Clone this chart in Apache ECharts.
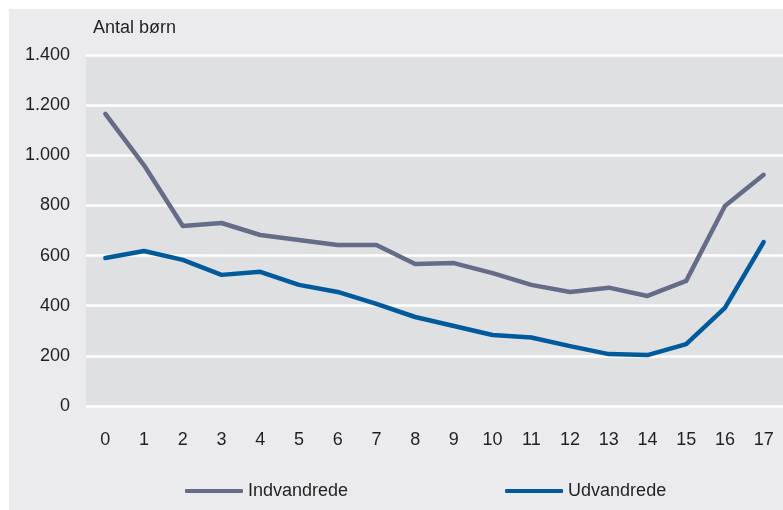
<!DOCTYPE html>
<html>
<head>
<meta charset="utf-8">
<script src="https://cdn.jsdelivr.net/npm/echarts@6/dist/echarts.min.js"></script>
<style>
  html, body { margin: 0; padding: 0; background: #ffffff; }
  #chart { width: 783px; height: 510px; }
</style>
</head>
<body>
<div id="chart"></div>
<script>
const ages = ["0", "1", "2", "3", "4", "5", "6", "7", "8", "9", "10", "11", "12", "13", "14", "15", "16", "17"];
const indvandrede = [1165, 960, 718, 730, 682, 662, 642, 642, 566, 570, 530, 483, 455, 472, 439, 499, 798, 922];
const udvandrede = [590, 618, 583, 523, 535, 483, 455, 407, 355, 319, 283, 273, 239, 207, 203, 247, 391, 654];
const yTicks = [0, 200, 400, 600, 800, 1000, 1200, 1400];

const FONT = "Liberation Sans";
const TEXT = "#231f20";

const chart = echarts.init(document.getElementById("chart"), null, { renderer: "canvas" });

const option = {
  backgroundColor: "#ffffff",
  animation: false,
  graphic: [
    {
      type: "rect",
      z: -10,
      silent: true,
      shape: { x: 9, y: 9, width: 780, height: 510 },
      style: { fill: "#ebebed" },
    },
  ],
  title: {
    text: "Antal børn",
    left: 88,
    top: 14,
    textStyle: { fontFamily: FONT, fontSize: 18, fontWeight: "normal", color: TEXT },
  },
  legend: {
    data: ["Indvandrede", "Udvandrede"],
    left: 185,
    top: 482,
    padding: 0,
    itemWidth: 58,
    itemHeight: 4,
    itemGap: 157,
    icon: "roundRect",
    textStyle: { fontFamily: FONT, fontSize: 18, color: TEXT },
  },
  grid: {
    left: 86,
    right: 0,
    top: 55,
    bottom: 104,
    show: true,
    backgroundColor: "#dfe0e2",
    borderWidth: 0,
  },
  xAxis: {
    type: "category",
    data: ages,
    boundaryGap: true,
    axisLine: { show: false },
    axisTick: { show: false },
    axisLabel: { fontFamily: FONT, fontSize: 18, color: TEXT, margin: 25 },
  },
  yAxis: {
    type: "value",
    min: yTicks[0],
    max: yTicks[yTicks.length - 1],
    interval: 200,
    axisLine: { show: false },
    axisTick: { show: false },
    splitLine: { lineStyle: { color: "#ffffff", width: 2.5 } },
    axisLabel: {
      fontFamily: FONT,
      fontSize: 18,
      color: TEXT,
      margin: 16,
      formatter: (v) => String(v).replace(/\B(?=(\d{3})+(?!\d))/g, "."),
    },
  },
  series: [
    {
      name: "Indvandrede",
      type: "line",
      data: indvandrede,
      symbol: "none",
      color: "#646c88",
      lineStyle: { width: 4.5, cap: "round", join: "round" },
    },
    {
      name: "Udvandrede",
      type: "line",
      data: udvandrede,
      symbol: "none",
      color: "#005a9c",
      lineStyle: { width: 4.5, cap: "round", join: "round" },
    },
  ],
};

chart.setOption(option);
</script>
</body>
</html>
